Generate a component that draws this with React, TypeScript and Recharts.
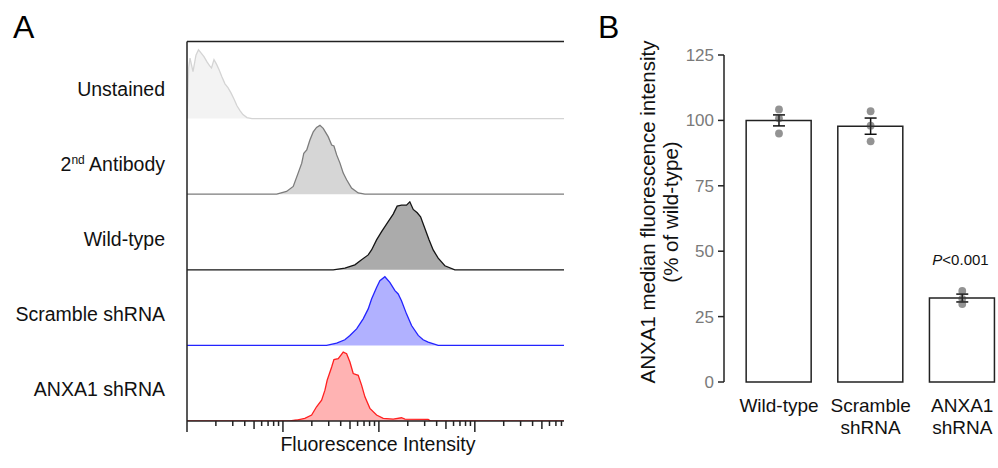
import {
  Area,
  Bar,
  ComposedChart,
  ErrorBar,
  ReferenceLine,
  Scatter,
  XAxis,
  YAxis,
} from 'recharts';

const FONT = '"Liberation Sans", Arial, Helvetica, sans-serif';

// Panel A: histogram traces, [fluorescence intensity, % of mode]
const unstained = [
  [1, 0], [1.04, 67], [1.075, 80], [1.155, 62], [1.24, 84], [1.318, 91],
  [1.399, 87], [1.503, 82], [1.616, 75], [1.716, 70], [1.8, 67], [1.911, 78],
  [2.029, 72], [2.154, 65], [2.315, 55], [2.488, 46], [2.673, 41], [2.873, 34],
  [3.087, 26], [3.317, 17], [3.565, 10.5], [3.831, 5.3], [4.217, 1.3],
  [4.753, 0], [8500, 0],
];
const secondAb = [
  [1, 0], [8.6, 0], [10.9, 3.7], [12.8, 10.3], [14.4, 27.9], [15.7, 41.1],
  [16.5, 54.2], [17.7, 58.6], [19.1, 71.7], [20.7, 82.6], [22.4, 88.4],
  [24.3, 91.1], [26.3, 87.1], [29.6, 76.1], [32.2, 65.1], [34.0, 63.8],
  [36.3, 52], [39.3, 41.1], [42.5, 27.9], [46.1, 19.1], [51.9, 8.2],
  [60.9, 1.6], [71.5, 0], [8500, 0],
];
const wildType = [
  [1, 0], [33.4, 0], [44.2, 2.2], [56.2, 6.6], [66.0, 13.2], [77.4, 19.7],
  [83.9, 26.3], [94.6, 39.5], [106.7, 50.4], [125, 63.6], [141, 73.7],
  [155, 84.2], [172, 85.5], [194, 85.5], [210, 89.9], [228, 79.9],
  [251, 75.4], [272, 70.1], [301, 54.9], [334, 39.5], [368, 26.3],
  [415, 15.4], [487, 5.3], [619, 0], [8500, 0],
];
const scramble = [
  [1, 0], [28.5, 0], [36.3, 3.0], [44.2, 7.5], [49.9, 13.2], [58.6, 21.9],
  [68.6, 35.1], [77.4, 48.3], [83.9, 61.4], [94.6, 76.7], [102.4, 85.5],
  [115.5, 90.8], [130, 83.3], [147, 72.4], [159, 68.0], [172, 59.2],
  [194, 41.7], [219, 26.3], [257, 13.2], [289, 7.5], [326, 4.3], [415, 0],
  [8500, 0],
];
const anxa1 = [
  [1, 0], [11.8, 0], [13.9, 1.3], [16.9, 3.6], [19.9, 7.9], [22.4, 18.8],
  [25.3, 27.6], [27.4, 40.8], [28.9, 53.9], [32.2, 71.4], [34.0, 81.2],
  [37.7, 82.5], [42.5, 91.2], [46.1, 89.1], [49.9, 78.0], [54.0, 62.8],
  [60.9, 60.5], [66.0, 47.4], [71.5, 32.0], [80.6, 16.7], [94.6, 7.9],
  [111, 3.6], [141, 2.6], [172, 4.3], [187, 2.6], [326, 2.2], [346, 0],
  [8500, 0],
];

const rowLabels = ['Unstained', 'Antibody', 'Wild-type', 'Scramble shRNA', 'ANXA1 shRNA'];
const rowStrokes = ['#d4d4d4', '#7c7c7c', '#151515', '#2323ff', '#ff2020'];
const rowFills = ['#f3f3f3', '#d6d6d6', '#ababab', '#b1b1ff', '#ffb3b3'];
const histograms = [unstained, secondAb, wildType, scramble, anxa1];

const logTicks = [
  1, 2, 3, 4, 5, 6, 7, 8, 9,
  10, 20, 30, 40, 50, 60, 70, 80, 90,
  100, 200, 300, 400, 500, 600, 700, 800, 900,
  1000, 2000, 3000, 4000, 5000, 6000, 7000, 8000,
];

// Panel B: median fluorescence (% of wild-type)
const groups = ['Wild-type', 'Scramble\nshRNA', 'ANXA1\nshRNA'];
const medians = [100, 97.8, 32.1];
const errors = [2.1, 3.1, 1.5];
const replicates = [
  [104.2, 100.8, 95.0],
  [103.5, 98.0, 92.0],
  [34.8, 31.8, 29.8],
];
const yTicks = [0, 25, 50, 75, 100, 125];

const barData = groups.map((g, i) => ({
  pos: i + 1,
  val: medians[i],
  err: errors[i],
}));
const pointData = replicates.flatMap((vals, i) =>
  vals.map((v) => ({ pos: i + 1, val: v })),
);

const LogTick = ({ x, y, payload }: any) => {
  const v = payload.value;
  const mant = v / Math.pow(10, Math.floor(Math.log10(v) + 1e-9));
  const len = Math.abs(mant - 1) < 1e-6 ? 11 : Math.abs(mant - 5) < 1e-6 ? 8 : 5;

  return (
    <line x1={x} x2={x} y1={y} y2={y + len} stroke='#222' strokeWidth={1.5} />
  );
};

const GroupTick = ({ x, y, payload }: any) => {
  const lines = groups[payload.value - 1].split('\n');

  return (
    <text x={x} y={y} textAnchor='middle' fontSize={19} fill='#111' fontFamily={FONT}>
      {lines.map((l, i) => (
        <tspan key={i} x={x} dy={i === 0 ? 29.5 : 22.5}>
          {l}
        </tspan>
      ))}
    </text>
  );
};

const Dot = ({ cx, cy }: any) => (
  <circle cx={cx} cy={cy} r={3.9} fill='#3a3a3a' fillOpacity={0.55} />
);

const NoShape = () => <g />;

export default function App() {
  return (
    <div
      style={{
        position: 'absolute',
        left: 0,
        top: 0,
        width: 998,
        height: 468,
        background: '#fff',
        fontFamily: FONT,
      }}
    >
      <div style={{ position: 'absolute', left: 0, top: 0 }}>
        <ComposedChart
          width={570}
          height={468}
          margin={{ top: 43, right: 6, bottom: 33, left: 187 }}
        >
          <XAxis
            type='number'
            dataKey='x'
            scale='log'
            domain={[1, 8500]}
            allowDataOverflow
            ticks={logTicks}
            interval={0}
            height={14}
            tickSize={0}
            tickMargin={0}
            tickLine={false}
            tick={<LogTick />}
            axisLine={{ stroke: '#222', strokeWidth: 1.5 }}
          />
          {histograms.map((_, i) => (
            <YAxis
              key={i}
              yAxisId={'r' + i}
              hide
              type='number'
              domain={[-(4 - i) * 100, (i + 1) * 100]}
              allowDataOverflow
            />
          ))}
          {histograms.map((h, i) => (
            <Area
              key={i}
              yAxisId={'r' + i}
              data={h.map(([x, v]) => ({ x, v }))}
              dataKey='v'
              type='linear'
              stroke={rowStrokes[i]}
              strokeWidth={1.3}
              fill={rowFills[i]}
              fillOpacity={1}
              dot={false}
              activeDot={false}
              isAnimationActive={false}
            />
          ))}
          <ReferenceLine
            yAxisId='r0'
            y={102}
            ifOverflow='visible'
            stroke='#222'
            strokeWidth={1.5}
          />
          <ReferenceLine
            yAxisId='r0'
            segment={[
              { x: 1, y: 102 },
              { x: 1, y: -400 },
            ]}
            ifOverflow='visible'
            stroke='#222'
            strokeWidth={1.5}
          />
        </ComposedChart>
      </div>

      <div style={{ position: 'absolute', left: 620, top: 0 }}>
        <ComposedChart
          width={378}
          height={468}
          data={barData}
          margin={{ top: 55, right: 0, bottom: 26, left: 0 }}
        >
          <XAxis
            type='number'
            dataKey='pos'
            domain={[0.4, 3.39]}
            allowDataOverflow
            ticks={[1, 2, 3]}
            interval={0}
            height={60}
            tickSize={0}
            tickMargin={0}
            axisLine={false}
            tickLine={false}
            tick={<GroupTick />}
          />
          <YAxis
            type='number'
            dataKey='val'
            domain={[0, 125]}
            ticks={yTicks}
            interval={0}
            width={104}
            tickSize={6}
            tickMargin={4}
            axisLine={{ stroke: '#222', strokeWidth: 1.5 }}
            tickLine={{ stroke: '#222', strokeWidth: 1.5 }}
            tick={{ fill: '#7a7a7a', fontSize: 17, fontFamily: FONT }}
          />
          <Bar
            dataKey='val'
            barSize={65}
            fill='#fff'
            stroke='#222'
            strokeWidth={1.5}
            isAnimationActive={false}
          />
          <Scatter
            data={pointData}
            shape={<Dot />}
            isAnimationActive={false}
          />
          <Scatter data={barData} shape={<NoShape />} isAnimationActive={false}>
            <ErrorBar
              dataKey='err'
              direction='y'
              width={6}
              stroke='#111'
              strokeWidth={1.5}
              isAnimationActive={false}
            />
          </Scatter>
        </ComposedChart>
      </div>

      <svg
        width={998}
        height={468}
        style={{ position: 'absolute', left: 0, top: 0, pointerEvents: 'none' }}
        fontFamily={FONT}
      >
        <text x={13} y={38} fontSize={32} fill='#000'>
          A
        </text>
        <text x={598} y={38} fontSize={32} fill='#000'>
          B
        </text>

        {rowLabels.map((label, i) => (
          <text
            key={label}
            x={165}
            y={96 + i * 75}
            textAnchor='end'
            fontSize={19.5}
            fill='#111'
          >
            {i === 1 && (
              <>
                <tspan>2</tspan>
                <tspan fontSize={12} dy={-7}>
                  nd
                </tspan>
                <tspan dy={7}> </tspan>
              </>
            )}
            {label}
          </text>
        ))}

        <text x={378} y={451} textAnchor='middle' fontSize={19.5} fill='#111'>
          Fluorescence Intensity
        </text>

        <text
          transform='translate(655,212) rotate(-90)'
          textAnchor='middle'
          fontSize={20.5}
          fill='#111'
        >
          ANXA1 median fluorescence intensity
        </text>
        <text
          transform='translate(678,212) rotate(-90)'
          textAnchor='middle'
          fontSize={20.5}
          fill='#111'
        >
          (% of wild-type)
        </text>

        <text x={960.5} y={265} textAnchor='middle' fontSize={15} fill='#111'>
          <tspan fontStyle='italic'>P</tspan>&lt;0.001
        </text>
      </svg>
    </div>
  );
}
